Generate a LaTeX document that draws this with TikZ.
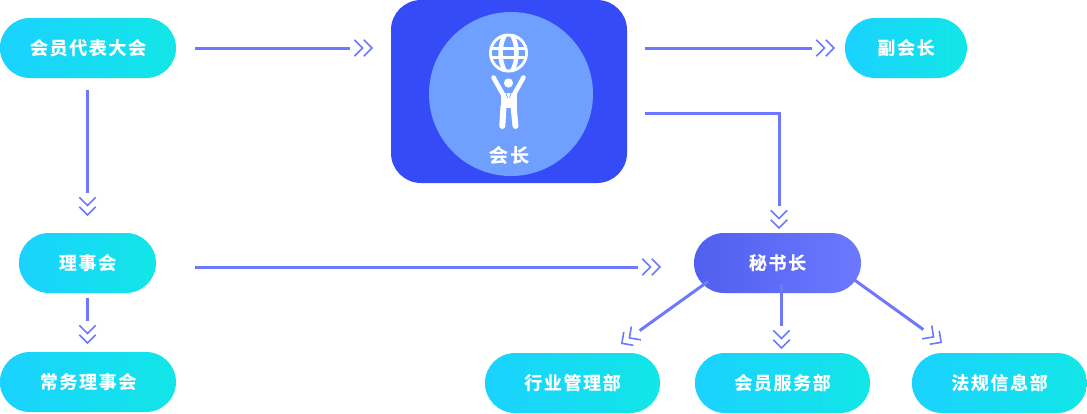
\documentclass[tikz,border=0pt]{standalone}
\usepackage{fontspec}
\newfontfamily\cjkb{Noto Sans CJK SC Bold}[LetterSpace=9,FakeBold=0.3]
\newfontfamily\cjkc{Noto Sans CJK SC Bold}[LetterSpace=12,FakeBold=0.3]
\usetikzlibrary{arrows.meta,calc}
\definecolor{lineblue}{HTML}{6C78FF}
\definecolor{cyanL}{HTML}{1AD2FF}
\definecolor{cyanR}{HTML}{12E6E6}
\definecolor{boxblue}{HTML}{354BF8}
\definecolor{discblue}{HTML}{6FA0FF}
\definecolor{mishuL}{HTML}{5060EE}
\definecolor{mishuR}{HTML}{6C78FF}
\pgfdeclarearrow{
  name=DoubleChevron,
  setup code={
    \pgfarrowssettipend{0pt}
    \pgfarrowssetbackend{-19pt}
    \pgfarrowssetvisualbackend{-19pt}
    \pgfarrowssetlineend{-23pt}
    \pgfarrowshullpoint{0pt}{0pt}
    \pgfarrowshullpoint{-19pt}{9pt}
    \pgfarrowshullpoint{-19pt}{-9pt}
  },
  drawing code={
    \pgfsetlinewidth{1.6pt}
    \pgfsetmiterjoin
    \pgfsetbuttcap
    \pgfpathmoveto{\pgfqpoint{-9.3pt}{8.2pt}}
    \pgfpathlineto{\pgfqpoint{-1.1pt}{0pt}}
    \pgfpathlineto{\pgfqpoint{-9.3pt}{-8.2pt}}
    \pgfpathmoveto{\pgfqpoint{-18.6pt}{8.2pt}}
    \pgfpathlineto{\pgfqpoint{-10.4pt}{0pt}}
    \pgfpathlineto{\pgfqpoint{-18.6pt}{-8.2pt}}
    \pgfusepathqstroke
  },
}
\tikzset{
  x=1pt,y=-1pt,
  pill/.style={rounded corners=30pt,minimum height=60pt,inner sep=0pt,text=white,font=\cjkb\fontsize{18pt}{20pt}\selectfont,outer sep=0pt,text height=13pt,text depth=0pt},
  cyanpill/.style={pill,left color=cyanL,right color=cyanR},
  conn/.style={draw=lineblue,line width=3pt,-DoubleChevron},
}
\begin{document}
\begin{tikzpicture}
\useasboundingbox (0,0) rectangle (1087,413);
\node[cyanpill,minimum width=176pt] (dahui) at (88,48) {会员代表大会};
\node[cyanpill,minimum width=137pt] (lishi) at (87.5,263) {理事会};
\node[cyanpill,minimum width=176pt] (changwu) at (88,382) {常务理事会};
\node[cyanpill,minimum width=122pt] (fu) at (906,48) {副会长};
\node[pill,minimum width=167pt,left color=mishuL,right color=mishuR] (mishu) at (777.5,263) {秘书长};
\node[cyanpill,minimum width=175pt] (hangye) at (572.5,383) {行业管理部};
\node[cyanpill,minimum width=175pt] (fuwu) at (782.5,383) {会员服务部};
\node[cyanpill,minimum width=175pt] (fagui) at (999.5,383) {法规信息部};
\node[fill=boxblue,rounded corners=30pt,minimum width=236pt,minimum height=183pt,inner sep=0pt,outer sep=0pt] (huizhang) at (509,91.5) {};
\fill[discblue] (511,94) circle[radius=82];
\node[text=white,font=\cjkc\fontsize{19pt}{21pt}\selectfont,inner sep=0pt] (hzlabel) at (509,155) {会长};
% globe
\fill[white] (508.5,53) circle[radius=19.5];
\fill[discblue] (508.5,53) circle[radius=16.5];
\begin{scope}[draw=white]
\draw[line width=2.4pt] (491,48.5) -- (526,48.5);
\draw[line width=2.4pt] (491,57.5) -- (526,57.5);
\draw[line width=4.5pt] (505,35) .. controls (499,44) and (499,62) .. (505,71);
\draw[line width=4.5pt] (512,35) .. controls (518,44) and (518,62) .. (512,71);
\end{scope}
% person
\fill[white] (508.5,83) circle[radius=4.6];
\draw[white,line width=4.5pt,line cap=round] (493.5,77.5) -- (505,98);
\draw[white,line width=4.5pt,line cap=round] (523.5,77.5) -- (512,98);
\fill[white] (500.5,93) rectangle (516.5,108);
\draw[white,line width=6pt,line cap=round] (503.5,106) -- (502.3,126);
\draw[white,line width=6pt,line cap=round] (513.5,106) -- (515.5,126);
\draw[discblue,line width=.7pt] (505.5,91) -- (507.5,98);
\draw[discblue,line width=.7pt] (511.5,91) -- (509.5,98);
% connectors
\draw[conn,shorten <=19pt,shorten >=18pt] (dahui.east) -- (huizhang.west |- dahui.east);
\draw[conn,shorten <=18pt,shorten >=10pt] (huizhang.east |- fu.west) -- (fu.west);
\draw[conn,shorten >=4pt] ($(huizhang.east)+(18,21.5)$) -| ($(mishu.north)+(1.5,0)$);
\draw[conn,shorten <=12pt,shorten >=17pt] (lishi.north |- dahui.south) -- (lishi.north);
\draw[conn,shorten <=5pt,shorten >=8pt] (lishi.south) -- (lishi.south |- changwu.north);
\draw[conn,shorten <=39pt,shorten >=33pt] ($(lishi.east)+(0,4)$) -- ($(mishu.west)+(0,4)$);
\draw[conn,shorten <=-9pt,shorten >=4pt] ($(mishu.south)+(4,0)$) -- ($(fuwu.north)+(-1,0)$);
\coordinate (dl) at (621,344);
\coordinate (dr) at (942,343);
\draw[conn] ($(mishu.center)+(-69.5,18.5)$) -- (dl);
\draw[conn] ($(mishu.center)+(77,17)$) -- (dr);
\end{tikzpicture}
\end{document}
